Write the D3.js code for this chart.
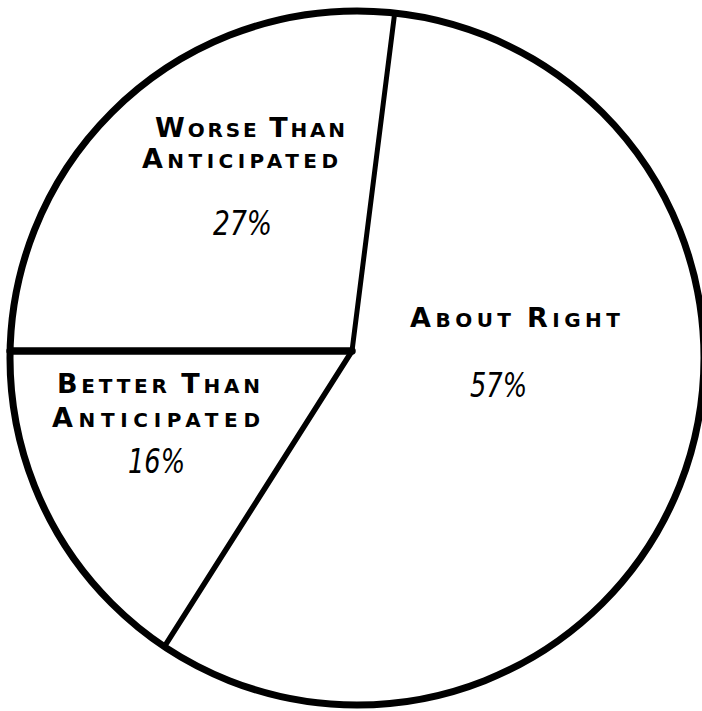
<!DOCTYPE html>
<html>
<head>
<meta charset="utf-8">
<script src="https://cdn.jsdelivr.net/npm/d3@7"></script>
<style>
  html, body { margin: 0; padding: 0; background: #fff; }
  svg { display: block; }
</style>
</head>
<body>
<svg id="chart" width="702" height="711"></svg>
<script>
// Survey responses, clockwise from the top spoke
const categories = ["About Right", "Better Than Anticipated", "Worse Than Anticipated"];
const values = [57, 16, 27];
const valueLabels = ["57%", "16%", "27%"];
// Lettered caption lines for each slice
const captionLines = [
  ["About Right"],
  ["Better Than", "Anticipated"],
  ["Worse Than", "Anticipated"]
];

const svg = d3.select("#chart");
const cx = 357, cy = 358, radius = 347;
// the spokes meet slightly up and left of the rim's centre
const hub = { x: -5, y: -7 };
const startDeg = 7.2;

const pie = d3.pie()
  .value(d => d)
  .sort(null)
  .startAngle(startDeg * Math.PI / 180)
  .endAngle(startDeg * Math.PI / 180 + 2 * Math.PI);

const arcs = pie(values);
const arc = d3.arc().innerRadius(0).outerRadius(radius);

const g = svg.append("g").attr("transform", `translate(${cx},${cy})`);

// white wedges
g.selectAll("path.slice")
  .data(arcs)
  .enter().append("path")
  .attr("class", "slice")
  .attr("d", arc)
  .attr("fill", "#fff")
  .attr("stroke", "none");

// point where a ray from the hub at angle a meets the rim
function rimPoint(a) {
  const dx = Math.sin(a), dy = -Math.cos(a);
  const b = dx * hub.x + dy * hub.y;
  const c = hub.x * hub.x + hub.y * hub.y - radius * radius;
  const t = -b + Math.sqrt(b * b - c);
  return [hub.x + t * dx, hub.y + t * dy];
}

// spokes at each slice boundary
g.selectAll("line.spoke")
  .data(arcs)
  .enter().append("line")
  .attr("class", "spoke")
  .attr("x1", hub.x).attr("y1", hub.y)
  .attr("x2", d => rimPoint(d.startAngle)[0])
  .attr("y2", d => rimPoint(d.startAngle)[1])
  .attr("stroke", "#000")
  .attr("stroke-width", (d, i) => [5, 5.5, 7.5][i])
  .attr("stroke-linecap", "round");

// outer rim
g.append("circle")
  .attr("r", radius)
  .attr("fill", "none")
  .attr("stroke", "#000")
  .attr("stroke-width", 7);

// text placement for each slice, relative to the rim centre
const captionLayout = [
  { y: -31, gap: 34, starts: [53], widths: [210], pct: { x: 113, y: 39, width: 57 } },
  { y: 35, gap: 34, starts: [-300, -305], widths: [203, 208], pct: { x: -229, y: 115, width: 57 } },
  { y: -221, gap: 31, starts: [-202, -215], widths: [190, 196], pct: { x: -144, y: -123, width: 59 } }
];

function smallCaps(sel, text) {
  text.split(" ").forEach((word, wi) => {
    if (wi > 0) sel.append("tspan").attr("font-size", 20).text(" ");
    sel.append("tspan").attr("font-size", 27).text(word[0].toUpperCase());
    sel.append("tspan").attr("font-size", 20).text(word.slice(1).toUpperCase());
  });
}

captionLines.forEach((lines, i) => {
  const lay = captionLayout[i];
  lines.forEach((line, li) => {
    const t = g.append("text")
      .attr("x", lay.starts[li])
      .attr("y", lay.y + li * lay.gap)
      .attr("font-family", "DejaVu Sans, sans-serif")
      .attr("font-weight", "bold")
      .attr("fill", "#000")
      .attr("textLength", lay.widths[li])
      .attr("lengthAdjust", "spacing");
    smallCaps(t, line);
  });
  g.append("text")
    .attr("x", lay.pct.x)
    .attr("y", lay.pct.y)
    .attr("font-family", "DejaVu Sans, sans-serif")
    .attr("font-size", 33)
    .attr("font-style", "italic")
    .attr("fill", "#000")
    .attr("textLength", lay.pct.width)
    .attr("lengthAdjust", "spacingAndGlyphs")
    .text(valueLabels[i]);
});
</script>
</body>
</html>
